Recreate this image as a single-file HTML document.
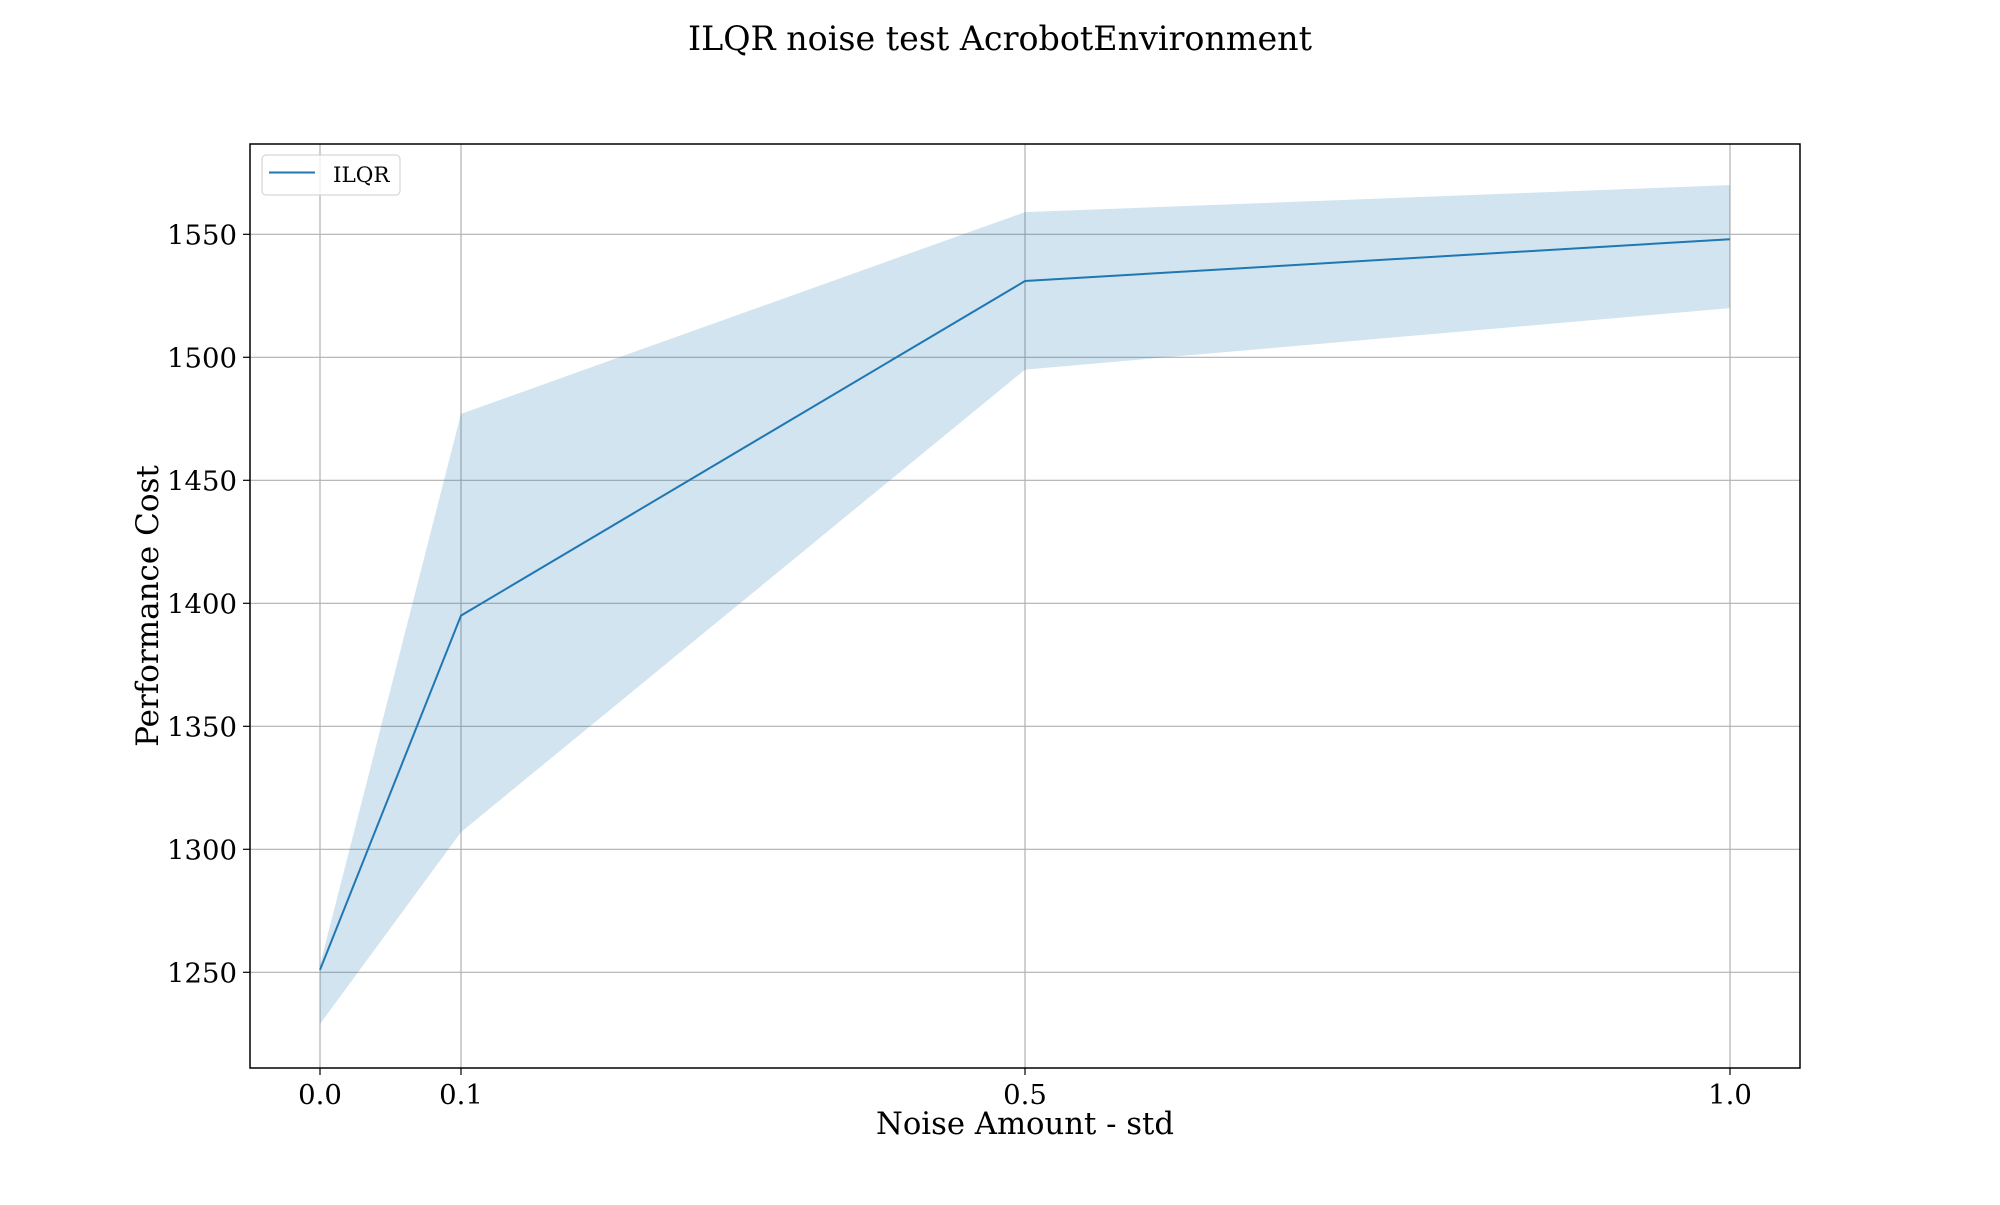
<!DOCTYPE html>
<html><head><meta charset="utf-8"><style>
body{margin:0;background:#fff}
svg text{font-family:"DejaVu Serif","Liberation Serif",serif;fill:#000}
</style></head><body>
<svg id="c" width="2000" height="1200" xmlns="http://www.w3.org/2000/svg">
<text x="1000" y="50" font-size="33.3" text-anchor="middle">ILQR noise test AcrobotEnvironment</text>
<g id="grid"></g><g id="series"></g><g id="ticks"></g>
<rect x="250" y="144" width="1550" height="924" fill="none" stroke="#000" stroke-width="1.5"/>
<text x="1025" y="1134" font-size="30.7" text-anchor="middle">Noise Amount - std</text>
<text transform="translate(158,606) rotate(-90)" font-size="31" text-anchor="middle">Performance Cost</text>
<g>
<rect x="262" y="155" width="138" height="40" rx="4" fill="#fff" fill-opacity="0.8" stroke="#ccc"/>
<line x1="269" y1="172.5" x2="315" y2="172.5" stroke="#1f77b4" stroke-width="2"/>
<text x="333" y="182" font-size="21.5">ILQR</text>
</g>
</svg>
<script>
const xs=[0,0.1,0.5,1.0];
const meanVals=[1251,1395,1531,1548];
const upperVals=[1253,1477,1559,1570];
const lowerVals=[1229,1307,1495,1520];
const xTicks=[0,0.1,0.5,1.0];
const xTickLabels=["0.0","0.1","0.5","1.0"];
const yTicks=[1250,1300,1350,1400,1450,1500,1550];
const X=v=>320+v*1410;
const Y=v=>234.3+(1550-v)*2.46;
const NS="http://www.w3.org/2000/svg";
function mk(t,a,p){const e=document.createElementNS(NS,t);for(const k in a)e.setAttribute(k,a[k]);p.appendChild(e);return e;}
const grid=document.getElementById('grid'),ticks=document.getElementById('ticks'),ser=document.getElementById('series');
xTicks.forEach((v,i)=>{
 const g=mk('line',{x1:X(v),x2:X(v),y1:144,y2:1068,stroke:'#b0b0b0','stroke-width':1.2},grid);
 
 
 const t=mk('line',{x1:X(v),x2:X(v),y1:1068,y2:1075,stroke:'#000','stroke-width':1.2},ticks);
 
 
 const l=mk('text',{x:X(v),y:1104,'font-size':27.5,'text-anchor':'middle'},ticks);l.textContent=xTickLabels[i];
 
 
});
yTicks.forEach(v=>{
 const g=mk('line',{x1:250,x2:1800,y1:Y(v),y2:Y(v),stroke:'#b0b0b0','stroke-width':1.2},grid);
 
 
 const t=mk('line',{x1:243,x2:250,y1:Y(v),y2:Y(v),stroke:'#000','stroke-width':1.2},ticks);
 
 
 const l=mk('text',{x:237,y:Y(v)+10,'font-size':27.5,'text-anchor':'end'},ticks);l.textContent=v;
 
 
});
let pts=xs.map((x,i)=>X(x)+','+Y(upperVals[i]));
for(let i=xs.length-1;i>=0;i--)pts.push(X(xs[i])+','+Y(lowerVals[i]));
const band=mk('polygon',{points:pts.join(' '),fill:'#1f77b4','fill-opacity':0.2},ser);


const line=mk('polyline',{points:xs.map((x,i)=>X(x)+','+Y(meanVals[i])).join(' '),fill:'none',stroke:'#1f77b4','stroke-width':2},ser);


</script>
</body></html>
